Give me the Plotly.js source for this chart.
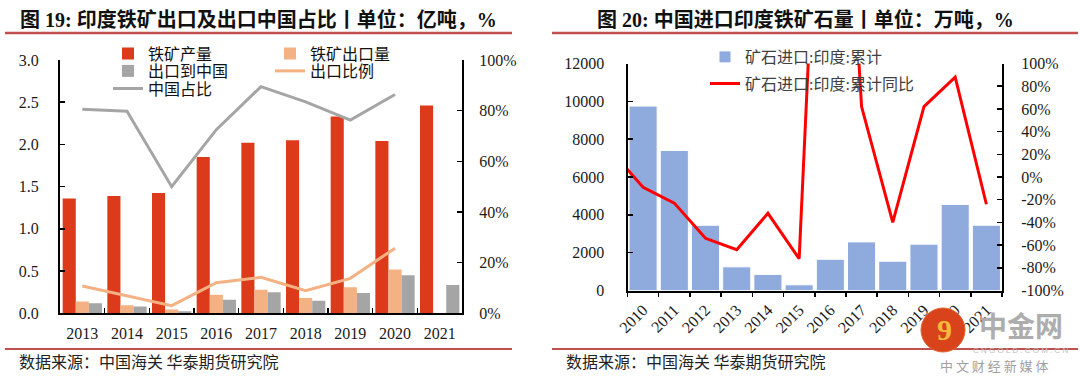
<!DOCTYPE html>
<html>
<head>
<meta charset="utf-8">
<script src="https://cdn.plot.ly/plotly-3.0.1.min.js"></script>
<style>
  html, body { margin: 0; padding: 0; background: #ffffff; }
  #chart { width: 1080px; height: 382px; }
</style>
</head>
<body>
<div id="chart"></div>
<script>
// ---------- data: left chart (图19) ----------
const years1 = ['2013', '2014', '2015', '2016', '2017', '2018', '2019', '2020', '2021'];
const oreOutput = [1.36, 1.39, 1.425, 1.85, 2.02, 2.05, 2.33, 2.04, 2.46];      // 铁矿产量 (亿吨)
const oreExport = [0.14, 0.095, 0.045, 0.22, 0.28, 0.18, 0.31, 0.52, null];    // 铁矿出口量 (亿吨)
const exportToChina = [0.12, 0.08, 0.025, 0.16, 0.25, 0.15, 0.24, 0.45, 0.335]; // 出口到中国 (亿吨)
const exportRatio = [10.8, 7.0, 3.0, 12.1, 14.2, 8.9, 13.8, 25.7, null];        // 出口比例 (%)
const chinaShare = [80.6, 79.8, 50.0, 72.5, 89.5, 83.5, 76.3, 86.4, null];      // 中国占比 (%)

// ---------- data: right chart (图20) ----------
const years2 = ['2010', '2011', '2012', '2013', '2014', '2015', '2016', '2017', '2018', '2019', '2020', '2021'];
const yoyYears = ['2009', '2010', '2011', '2012', '2013', '2014', '2015', '2016', '2017', '2018', '2019', '2020', '2021'];
const importCum = [9750, 7400, 3450, 1250, 850, 300, 1650, 2570, 1550, 2450, 4550, 3450]; // 矿石进口:印度:累计 (万吨)
const importYoY = [22, -9, -23, -54, -64, -32, -72, 520, 62, -40, 62, 88, -24];           // 矿石进口:印度:累计同比 (%)

// tick labels
const pctTickVals = [-100, -80, -60, -40, -20, 0, 20, 40, 60, 80, 100];
const pctTickText = ['-100%', '-80%', '-60%', '-40%', '-20%', '0%', '20%', '40%', '60%', '80%', '100%'];

// ---------- helpers for pixel -> paper ----------
const W = 1080, H = 382;
const fx = p => p / W;
const fy = p => 1 - p / H;

const SERIF = 'Liberation Serif, Noto Sans CJK SC, serif';
const CJK = 'Liberation Serif, Noto Sans CJK SC, sans-serif';
const tickFont = { family: SERIF, size: 16, color: '#1a1a1a' };

const RED = '#DC3A1A', ORANGE = '#F4B183', GRAY = '#A5A5A5', BLUE = '#8FAADC';

const traces = [
  { type: 'bar', name: '铁矿产量', x: years1, y: oreOutput, xaxis: 'x', yaxis: 'y',
    marker: { color: RED }, legend: 'legend', hoverinfo: 'skip' },
  { type: 'bar', name: '铁矿出口量', x: years1, y: oreExport, xaxis: 'x', yaxis: 'y',
    marker: { color: ORANGE }, legend: 'legend', hoverinfo: 'skip' },
  { type: 'bar', name: '出口到中国', x: years1, y: exportToChina, xaxis: 'x', yaxis: 'y',
    marker: { color: GRAY }, legend: 'legend2', hoverinfo: 'skip' },
  { type: 'scatter', mode: 'lines', name: '出口比例', x: years1, y: exportRatio, xaxis: 'x', yaxis: 'y2',
    line: { color: ORANGE, width: 3 }, legend: 'legend2', hoverinfo: 'skip' },
  { type: 'scatter', mode: 'lines', name: '中国占比', x: years1, y: chinaShare, xaxis: 'x', yaxis: 'y2',
    line: { color: GRAY, width: 3 }, legend: 'legend3', hoverinfo: 'skip' },
  { type: 'bar', name: '矿石进口:印度:累计', x: years2, y: importCum, xaxis: 'x2', yaxis: 'y3',
    width: 0.9, marker: { color: BLUE, line: { color: '#ffffff', width: 1 } }, legend: 'legend4', hoverinfo: 'skip' },
  { type: 'scatter', mode: 'lines', name: '矿石进口:印度:累计同比', x: yoyYears, y: importYoY, xaxis: 'x2', yaxis: 'y4',
    line: { color: '#FF0000', width: 3 }, legend: 'legend5', hoverinfo: 'skip' }
];

function rowLegend(xpx, ypx, entryW, color) {
  return {
    orientation: 'h', x: fx(xpx), xanchor: 'left', y: fy(ypx), yanchor: 'middle',
    entrywidth: entryW, entrywidthmode: 'pixels',
    font: { family: CJK, size: 16, color: color },
    bgcolor: 'rgba(0,0,0,0)', borderwidth: 0, tracegroupgap: 0
  };
}

const axisCommon = {
  showline: true, linecolor: '#000000', linewidth: 2, mirror: false,
  showgrid: false, zeroline: false, tickcolor: '#000000', tickwidth: 1.5,
  tickfont: tickFont, fixedrange: true
};

const layout = {
  width: W, height: H,
  margin: { l: 0, r: 0, t: 0, b: 0, autoexpand: false },
  paper_bgcolor: '#ffffff', plot_bgcolor: 'rgba(0,0,0,0)',
  barmode: 'group', bargap: 0.12, bargroupgap: 0,
  showlegend: true,
  xaxis: Object.assign({}, axisCommon, {
    domain: [fx(60), fx(462)], anchor: 'y', type: 'category',
    categoryorder: 'array', categoryarray: years1,
    tickson: 'boundaries', ticks: 'inside', ticklen: 5, ticklabelstandoff: 4
  }),
  yaxis: Object.assign({}, axisCommon, {
    domain: [fy(313.3), fy(60)], anchor: 'x', range: [0, 3], dtick: 0.5, tickformat: '.1f',
    ticks: 'inside', ticklen: 5, ticklabelstandoff: 16
  }),
  yaxis2: Object.assign({}, axisCommon, {
    overlaying: 'y', side: 'right', anchor: 'x', range: [0, 100], dtick: 20, ticksuffix: '%',
    ticks: 'inside', ticklen: 5, ticklabelstandoff: 12
  }),
  xaxis2: Object.assign({}, axisCommon, {
    domain: [fx(627.5), fx(1002)], anchor: 'y3', type: 'category',
    categoryorder: 'array', categoryarray: yoyYears, range: [0.5, 12.5],
    tickson: 'boundaries', ticks: 'outside', ticklen: 4, tickangle: -45, ticklabelstandoff: 2
  }),
  yaxis3: Object.assign({}, axisCommon, {
    domain: [fy(290.5), fy(63.5)], anchor: 'x2', range: [0, 12000], dtick: 2000, tickformat: 'd',
    ticks: 'inside', ticklen: 5, ticklabelstandoff: 18
  }),
  yaxis4: Object.assign({}, axisCommon, {
    overlaying: 'y3', side: 'right', anchor: 'x2', range: [-100, 100],
    tickmode: 'array', tickvals: pctTickVals, ticktext: pctTickText,
    ticks: 'inside', ticklen: 5, ticklabelstandoff: 14
  }),
  legend: rowLegend(108, 53.5, 117, '#111111'),
  legend2: rowLegend(108, 71, 117, '#111111'),
  legend3: rowLegend(108, 88.5, 117, '#111111'),
  legend4: rowLegend(705, 57, 200, '#404040'),
  legend5: rowLegend(705, 83.5, 200, '#404040'),
  shapes: [
    // title underlines
    { type: 'line', xref: 'paper', yref: 'paper', x0: fx(5), x1: fx(512), y0: fy(33), y1: fy(33),
      line: { color: '#C0504D', width: 2.5 } },
    { type: 'line', xref: 'paper', yref: 'paper', x0: fx(552), x1: fx(1078), y0: fy(33), y1: fy(33),
      line: { color: '#C0504D', width: 2.5 } },
    // bottom rules
    { type: 'line', xref: 'paper', yref: 'paper', x0: fx(5), x1: fx(512), y0: fy(349), y1: fy(349),
      line: { color: '#C0504D', width: 2 } },
    { type: 'line', xref: 'paper', yref: 'paper', x0: fx(552), x1: fx(1078), y0: fy(349), y1: fy(349),
      line: { color: '#C0504D', width: 2 } },
    // watermark logo
    { type: 'circle', xref: 'paper', yref: 'paper', layer: 'above',
      x0: fx(921), x1: fx(965), y0: fy(352), y1: fy(308),
      fillcolor: '#D8431C', line: { color: '#E0632E', width: 1 } }
  ],
  annotations: [
    { xref: 'paper', yref: 'paper', x: fx(258), y: fy(20), xanchor: 'center', yanchor: 'middle', showarrow: false,
      text: '<b>图 19: 印度铁矿出口及出口中国占比丨单位：亿吨，%</b>',
      font: { family: CJK, size: 20, color: '#111111' } },
    { xref: 'paper', yref: 'paper', x: fx(805), y: fy(20), xanchor: 'center', yanchor: 'middle', showarrow: false,
      text: '<b>图 20: 中国进口印度铁矿石量丨单位：万吨，%</b>',
      font: { family: CJK, size: 20, color: '#111111' } },
    { xref: 'paper', yref: 'paper', x: fx(17), y: fy(361), xanchor: 'left', yanchor: 'middle', showarrow: false,
      text: '数据来源：中国海关 华泰期货研究院',
      font: { family: 'Noto Sans CJK SC, sans-serif', size: 16, color: '#222222' } },
    { xref: 'paper', yref: 'paper', x: fx(564), y: fy(361), xanchor: 'left', yanchor: 'middle', showarrow: false,
      text: '数据来源：中国海关 华泰期货研究院',
      font: { family: 'Noto Sans CJK SC, sans-serif', size: 16, color: '#222222' } },
    // watermark texts
    { xref: 'paper', yref: 'paper', x: fx(944), y: fy(329), xanchor: 'center', yanchor: 'middle', showarrow: false,
      text: '<b>9</b>', font: { family: 'Liberation Serif, serif', size: 30, color: '#F6B93B' } },
    { xref: 'paper', yref: 'paper', x: fx(1021), y: fy(325), xanchor: 'center', yanchor: 'middle', showarrow: false,
      text: '<b>中金网</b>', font: { family: 'Noto Sans CJK SC, sans-serif', size: 28, color: '#ADADAD' } },
    { xref: 'paper', yref: 'paper', x: fx(1020), y: fy(350), xanchor: 'center', yanchor: 'middle', showarrow: false,
      text: 'C N G O L D . C O M . C N', font: { family: 'Liberation Sans, sans-serif', size: 8, color: '#BDBDBD' } },
    { xref: 'paper', yref: 'paper', x: fx(994), y: fy(365), xanchor: 'center', yanchor: 'middle', showarrow: false,
      text: '中 文 财 经 新 媒 体', font: { family: 'Noto Sans CJK SC, sans-serif', size: 13, color: '#A0A0A0' } }
  ]
};

Plotly.newPlot('chart', traces, layout, { displayModeBar: false, staticPlot: true });
</script>
</body>
</html>
